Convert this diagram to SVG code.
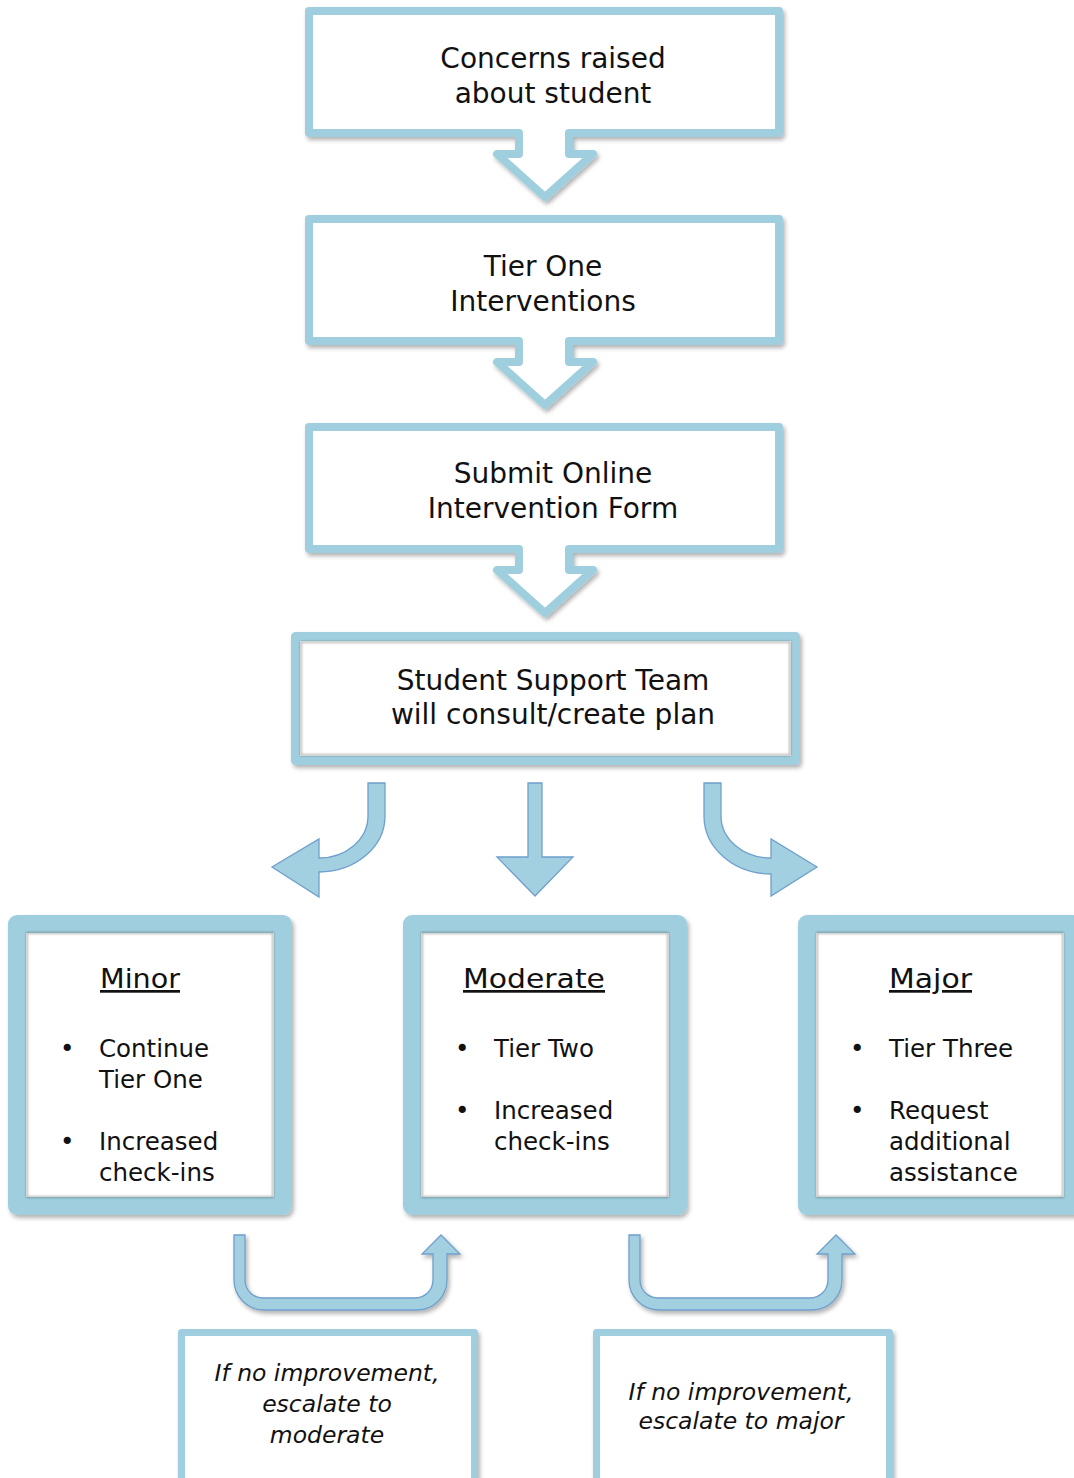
<svg xmlns="http://www.w3.org/2000/svg" width="1074" height="1478" viewBox="0 0 1074 1478">
<style>
.box{fill:#fff;stroke:#9fcfdf;stroke-linejoin:round}
.inner{fill:none;stroke:#000;stroke-opacity:0.28;stroke-width:2}
.t{font-family:"DejaVu Sans",sans-serif;fill:#111;text-anchor:middle}
.top{font-size:28px}
.b{font-family:"DejaVu Sans",sans-serif;fill:#111;font-size:24.5px}
.h{font-family:"DejaVu Sans",sans-serif;fill:#111;font-size:27px;text-decoration:underline}
.i{font-family:"DejaVu Sans",sans-serif;fill:#111;font-size:23.5px;font-style:italic;text-anchor:middle}
.arr{fill:#a2d0e0;stroke:#6f9fcc;stroke-width:1.3;stroke-linejoin:miter}
</style>
<defs>
<filter id="sh" x="-10%" y="-10%" width="125%" height="125%">
<feDropShadow dx="2" dy="3" stdDeviation="2" flood-color="#000" flood-opacity="0.3"/>
</filter>
<filter id="bl" x="-5%" y="-5%" width="110%" height="110%">
<feGaussianBlur stdDeviation="1.2"/>
</filter>
</defs>
<rect width="1074" height="1478" fill="#fff"/>

<g id="concerns">
<path class="box" stroke-width="8" filter="url(#sh)" d="M309,11 H779 V133 H569 V154 H593 L545,197 L497,154 H519 V133 H309 Z"/>
<text class="t top" x="553" y="68">Concerns raised</text>
<text class="t top" x="553" y="103">about student</text>
</g>

<g id="tier-one">
<path class="box" stroke-width="8" filter="url(#sh)" d="M309,219 H779 V341 H569 V362 H593 L545,405 L497,362 H519 V341 H309 Z"/>
<text class="t top" x="543" y="276">Tier One</text>
<text class="t top" x="543" y="311">Interventions</text>
</g>

<g id="submit-form">
<path class="box" stroke-width="8" filter="url(#sh)" d="M309,427 H779 V549 H569 V570 H593 L545,613 L497,570 H519 V549 H309 Z"/>
<text class="t top" x="553" y="483">Submit Online</text>
<text class="t top" x="553" y="518">Intervention Form</text>
</g>

<g id="support-team">
<rect class="box" x="295.5" y="636.5" width="500" height="124" stroke-width="9" filter="url(#sh)"/>
<rect class="inner" x="301" y="642" width="489" height="113" filter="url(#bl)"/>
<text class="t top" x="553" y="690">Student Support Team</text>
<text class="t top" x="553" y="724">will consult/create plan</text>
</g>

<g id="connectors">
<path class="arr" d="M368,783 H385 V816 A66,56 0 0 1 319,872 V897 L272,867 L319,839 V858 A49,42 0 0 0 368,816 Z"/>
<path class="arr" d="M528,783 H542 V857 H573 L535,896 L497,857 H528 Z"/>
<path class="arr" d="M704,783 H721 V816 A50,42 0 0 0 771,858 V839 L817,867 L771,896 V874 A67,58 0 0 1 704,816 Z"/>
<path class="arr" filter="url(#sh)" d="M234,1235 H245 V1280 A18,18 0 0 0 263,1298 H415 A18,18 0 0 0 433,1280 V1254 H422 L441,1235 L460,1254 H447 V1280 A30,30 0 0 1 417,1310 H264 A30,30 0 0 1 234,1280 Z"/>
<path class="arr" filter="url(#sh)" d="M629,1235 H640 V1280 A18,18 0 0 0 658,1298 H810 A18,18 0 0 0 828,1280 V1254 H817 L836,1235 L855,1254 H842 V1280 A30,30 0 0 1 812,1310 H659 A30,30 0 0 1 629,1280 Z"/>
</g>

<g id="minor">
<rect class="box" x="17" y="924" width="266" height="282" stroke-width="18" filter="url(#sh)"/>
<rect class="inner" x="27" y="933" width="246" height="264" filter="url(#bl)"/>
<text class="h" x="100" y="988" textLength="80" lengthAdjust="spacingAndGlyphs">Minor</text>
<text class="b" x="60" y="1057">•</text>
<text class="b" x="99" y="1057">Continue</text>
<text class="b" x="99" y="1088">Tier One</text>
<text class="b" x="60" y="1150">•</text>
<text class="b" x="99" y="1150">Increased</text>
<text class="b" x="99" y="1181">check-ins</text>
</g>

<g id="moderate">
<rect class="box" x="412" y="924" width="266" height="282" stroke-width="18" filter="url(#sh)"/>
<rect class="inner" x="422" y="933" width="246" height="264" filter="url(#bl)"/>
<text class="h" x="463" y="988" textLength="142" lengthAdjust="spacingAndGlyphs">Moderate</text>
<text class="b" x="455" y="1057">•</text>
<text class="b" x="494" y="1057">Tier Two</text>
<text class="b" x="455" y="1119">•</text>
<text class="b" x="494" y="1119">Increased</text>
<text class="b" x="494" y="1150">check-ins</text>
</g>

<g id="major">
<rect class="box" x="807" y="924" width="266" height="282" stroke-width="18" filter="url(#sh)"/>
<rect class="inner" x="817" y="933" width="246" height="264" filter="url(#bl)"/>
<text class="h" x="889" y="988" textLength="83" lengthAdjust="spacingAndGlyphs">Major</text>
<text class="b" x="850" y="1057">•</text>
<text class="b" x="889" y="1057">Tier Three</text>
<text class="b" x="850" y="1119">•</text>
<text class="b" x="889" y="1119">Request</text>
<text class="b" x="889" y="1150">additional</text>
<text class="b" x="889" y="1181">assistance</text>
</g>

<g id="escalate-moderate">
<rect class="box" x="181.5" y="1332.5" width="293" height="170" stroke-width="7" filter="url(#sh)"/>
<text class="i" x="327" y="1381">If no improvement,</text>
<text class="i" x="327" y="1412">escalate to</text>
<text class="i" x="327" y="1443">moderate</text>
</g>

<g id="escalate-major">
<rect class="box" x="596.5" y="1332.5" width="293" height="170" stroke-width="7" filter="url(#sh)"/>
<text class="i" x="741" y="1400">If no improvement,</text>
<text class="i" x="741" y="1429">escalate to major</text>
</g>
</svg>
